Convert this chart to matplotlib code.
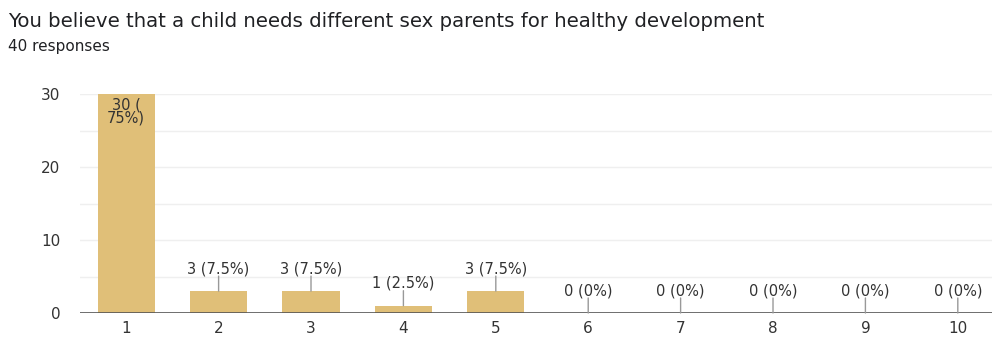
import matplotlib.pyplot as plt

# Survey answers on a 1-10 scale
options = [1, 2, 3, 4, 5, 6, 7, 8, 9, 10]
counts = [30, 3, 3, 1, 3, 0, 0, 0, 0, 0]
percents = ["75%", "7.5%", "7.5%", "2.5%", "7.5%", "0%", "0%", "0%", "0%", "0%"]

title = "You believe that a child needs different sex parents for healthy development"
subtitle = "40 responses"

bar_color = "#e0bf78"
text_color = "#333333"


def main():
    fig = plt.figure(figsize=(9.92, 3.39), dpi=100)
    ax = fig.add_axes([80 / 992, 26 / 339, 912 / 992, 219 / 339])

    ax.bar(options, counts, width=0.62, color=bar_color, zorder=2)

    # Light grid every 5 responses
    for y in range(5, 31, 5):
        ax.axhline(y, color="#efefef", linewidth=1, zorder=0)
    ax.axhline(0, color="#555555", linewidth=1.2, zorder=3)

    # Value labels with short leader lines
    for x, c, p in zip(options, counts, percents):
        if c >= 20:
            ax.annotate(f"{c} (\n{p})", xy=(x, c), xytext=(0, -3), textcoords="offset pixels",
                        ha="center", va="top", fontsize=10.5, color=text_color,
                        linespacing=0.9, zorder=4)
        else:
            ax.annotate("", xy=(x, c), xytext=(0, 15), textcoords="offset pixels",
                        arrowprops=dict(arrowstyle="-", color="#999999", lw=1,
                                        shrinkA=0, shrinkB=0), zorder=4)
            ax.annotate(f"{c} ({p})", xy=(x, c), xytext=(0, 15), textcoords="offset pixels",
                        ha="center", va="bottom", fontsize=10.5, color=text_color,
                        zorder=4)

    ax.set_xlim(0.5, 10.37)
    ax.set_ylim(0, 30)
    ax.set_xticks(options)
    ax.set_yticks([0, 10, 20, 30])
    ax.tick_params(length=0, labelsize=11, labelcolor=text_color)
    ax.tick_params(axis="y", pad=14)
    ax.tick_params(axis="x", pad=6)
    for side in ax.spines.values():
        side.set_visible(False)

    fig.text(8 / 992, 1 - 27 / 339, title, fontsize=14.2, color="#202124", va="baseline")
    fig.text(8 / 992, 1 - 51 / 339, subtitle, fontsize=11, color="#202124", va="baseline")

    fig.savefig("out.png", dpi=100)


if __name__ == "__main__":
    main()
